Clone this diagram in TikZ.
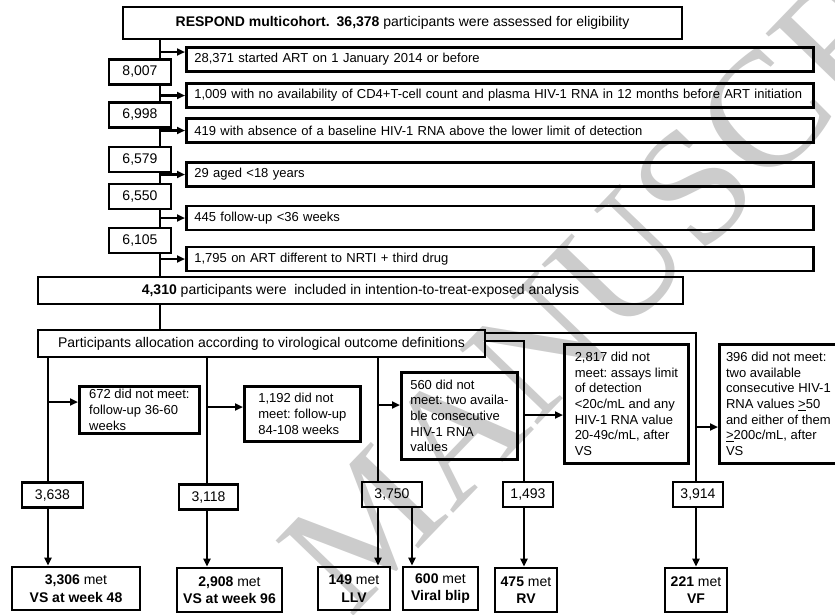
\documentclass[tikz,border=0pt]{standalone}
\usepackage{fontspec}
\setmainfont{Liberation Sans}
\newfontfamily\wmfont{Liberation Serif}
\usetikzlibrary{arrows.meta}
\newcommand{\boxfont}{\fontsize{13pt}{15.6pt}\selectfont}
\newcommand{\headfont}{\fontsize{14pt}{17.5pt}\selectfont}
\frenchspacing

\begin{document}
\begin{tikzpicture}[x=1pt, y=-1pt, >={Triangle[length=8pt,width=7pt]},
  frame/.style={draw, line width=2.8pt, inner sep=0pt},
  head/.style={frame, font=\headfont, align=center},
  side/.style={frame, font=\boxfont, anchor=west, align=left,
               text width=611pt, inner xsep=8pt, minimum height=24pt},
  count/.style={frame, font=\headfont, minimum width=62pt, minimum height=25pt},
  excl/.style={frame, font=\boxfont, anchor=north west, align=left,
               minimum width=#1},
  result/.style={frame, font=\headfont, align=center, minimum height=43pt},
  line/.style={line width=2.2pt},
  arr/.style={line, ->},
  wmark/.style={text=black!20, font=\wmfont\fontsize{165pt}{165pt}\selectfont,
                anchor=base west, rotate=46, inner sep=0pt}]
  \useasboundingbox (0,0) rectangle (835,614);

  % Watermark
  \begin{scope}
    \clip (0,0) rectangle (835,614);
    \node[wmark] (wm) at (350,620) {MANUSCRIPT};
  \end{scope}

  % Row 1: cohort
  \node[head, minimum width=559pt, minimum height=32pt] (resp) at (402.5,23)
        {\textbf{RESPOND multicohort.}\enspace\textbf{36,378} participants were assessed for eligibility};

  % Exclusions beside the spine
  \node[side] (ex1) at (185,59.5) {28,371 started ART on 1 January 2014 or before};
  \node[side] (ex2) at (185,95.5)
        {\mbox{1,009 with no availability of CD4+T-cell count and plasma HIV-1 RNA in 12 months before ART initiation}};
  \node[side] (ex3) at (185,130.5) {419 with absence of a baseline HIV-1 RNA above the lower limit of detection};
  \node[side] (ex4) at (185,174.5) {29 aged <18 years};
  \node[side] (ex5) at (185,218) {445 follow-up <36 weeks};
  \node[side] (ex6) at (185,259) {1,795 on ART different to NRTI + third drug};

  % Remaining after each step
  \node[count] (n1) at (140,72) {8,007};
  \node[count] (n2) at (140,115) {6,998};
  \node[count] (n3) at (140,159.5) {6,579};
  \node[count] (n4) at (140,196.5) {6,550};
  \node[count] (n5) at (140,240.5) {6,105};

  % Row 2: analysis set and allocation
  \node[head, minimum width=645pt, minimum height=27pt] (itt) at (360.5,290.5)
        {\textbf{4,310} participants were~ included in intention-to-treat-exposed analysis};
  \node[head, minimum width=447pt, minimum height=27pt] (alloc) at (261.5,343.5)
        {Participants allocation according to virological outcome definitions};

  % Row 3: not meeting the definitions
  \node[excl=120pt, minimum height=47pt] (e1) at (78,385) {672 did not meet:\\follow-up 36-60\\weeks};
  \node[excl=116pt, minimum height=55pt] (e2) at (243,385) {1,192 did not\\meet: follow-up\\84-108 weeks};
  \node[excl=116pt, minimum height=87pt] (e3) at (400,371)
        {560 did not\\meet: two availa-\\ble consecutive\\HIV-1 RNA\\values};
  \node[excl=124pt, minimum height=119pt] (e4) at (563,343)
        {2,817 did not\\meet: assays limit\\of detection\\<20c/mL and any\\HIV-1 RNA value\\20-49c/mL, after\\VS};
  \node[excl=118pt, minimum height=119pt] (e5) at (718,343)
        {396 did not meet:\\two available\\consecutive HIV-1\\RNA values \underline{>}50\\and either of them\\\underline{>}200c/mL, after\\VS};

  % Row 4: counts per outcome
  \node[count, minimum width=61pt] (c1) at (52.5,495) {3,638};
  \node[count, minimum width=59pt] (c2) at (208.5,497) {3,118};
  \node[count, minimum width=60pt] (c3) at (392,494.5) {3,750};
  \node[count, minimum width=50pt] (c4) at (528,494.5) {1,493};
  \node[count, minimum width=50pt] (c5) at (698,494.5) {3,914};

  % Row 5: outcomes
  \node[result, minimum width=128pt] (r1) at (76,588.5) {\textbf{3,306} met\\\textbf{VS at week 48}};
  \node[result, minimum width=105pt, minimum height=44pt] (r2) at (229.5,590) {\textbf{2,908} met\\\textbf{VS at week 96}};
  \node[result, minimum width=72pt] (r3) at (354,588.5) {\textbf{149} met\\\textbf{LLV}};
  \node[result, minimum width=75pt] (r4) at (440.5,588.5) {\textbf{600} met\\\textbf{Viral blip}};
  \node[result, minimum width=62pt, minimum height=44pt] (r5) at (526,590) {\textbf{475} met\\\textbf{RV}};
  \node[result, minimum width=62pt, minimum height=44pt] (r6) at (696,590) {\textbf{221} met\\\textbf{VF}};

  % Spine
  \coordinate (spine) at (160,0);
  \draw[line] (resp.south -| spine) -- (n1.north -| spine);
  \draw[line] (n1.south -| spine) -- (n2.north -| spine);
  \draw[line] (n2.south -| spine) -- (n3.north -| spine);
  \draw[line] (n3.south -| spine) -- (n4.north -| spine);
  \draw[line] (n4.south -| spine) -- (n5.north -| spine);
  \draw[line] (n5.south -| spine) -- (itt.north -| spine);
  \draw[line] (itt.south -| spine) -- (alloc.north -| spine);
  \coordinate (t1) at ([yshift=7.5pt]ex1.west);
  \draw[arr] (t1 -| spine) -- (t1);
  \draw[arr] (ex2.west -| spine) -- (ex2.west);
  \draw[arr] (ex3.west -| spine) -- (ex3.west);
  \draw[arr] (ex4.west -| spine) -- (ex4.west);
  \draw[arr] (ex5.west -| spine) -- (ex5.west);
  \draw[arr] (ex6.west -| spine) -- (ex6.west);

  % Branches
  \coordinate (b1) at (48,0);
  \coordinate (b2) at (207,0);
  \coordinate (b3) at (378,0);
  \coordinate (b3r) at (412,0);
  \coordinate (b4) at (524,0);
  \coordinate (b5) at (696,0);
  \draw[line] (alloc.south -| b1) -- (c1.north -| b1);
  \draw[line] (alloc.south -| b2) -- (c2.north -| b2);
  \draw[line] (alloc.south -| b3) -- (c3.north -| b3);
  \draw[line] ([yshift=2.5pt]alloc.east) -| (c4.north -| b4);
  \draw[line] ([yshift=10.5pt]alloc.east) -| (c5.north -| b5);

  \coordinate (k1) at (48,402);
  \coordinate (k2) at (207,407);
  \coordinate (k3) at (378,405);
  \coordinate (k4) at (524,415);
  \coordinate (k5) at (696,427);
  \draw[arr] (k1) -- (k1 -| e1.west);
  \draw[arr] (k2) -- (k2 -| e2.west);
  \draw[arr] (k3) -- (k3 -| e3.west);
  \draw[arr] (k4) -- (k4 -| e4.west);
  \draw[arr] (k5) -- (k5 -| e5.west);

  \draw[arr] (c1.south -| b1) -- (r1.north -| b1);
  \draw[arr] (c2.south -| b2) -- (r2.north -| b2);
  \draw[arr] (c3.south -| b3) -- (r3.north -| b3);
  \draw[arr] (c3.south -| b3r) -- (r4.north -| b3r);
  \draw[arr] (c4.south -| b4) -- (r5.north -| b4);
  \draw[arr] (c5.south -| b5) -- (r6.north -| b5);
\end{tikzpicture}
\end{document}
